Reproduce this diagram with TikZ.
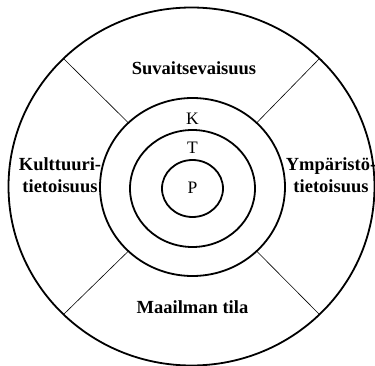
\documentclass[tikz,border=0pt]{standalone}
\usepackage{fontspec}
\setmainfont{Liberation Serif}
\usetikzlibrary{shapes.geometric}

\begin{document}
\begin{tikzpicture}[
    x=1pt, y=-1pt,
    ring/.style={draw, ellipse, line width=1.8pt, inner sep=0pt, outer sep=0pt},
    divider/.style={line width=0.6pt},
    area/.style={font=\fontsize{18.5}{22}\selectfont\bfseries, align=center, inner sep=1pt},
    level/.style={font=\fontsize{17.5}{20}\selectfont, inner sep=1pt}
]
    \useasboundingbox (0,0) rectangle (375,366);
    \coordinate (c) at (191.5,186.5);

    % Rings
    \node[ring, minimum width=366pt, minimum height=358pt] (outer) at (c) {};
    \node[ring, minimum width=185pt, minimum height=178pt] (kring) at (192.5,187) {};
    \node[ring, minimum width=125pt, minimum height=117pt] (tring) at (192.5,188.5) {};
    \node[ring, minimum width=61pt, minimum height=57pt] (pring) at (192.5,188.5) {};

    % Dividers
    \foreach \a in {45,135,225,315}
        \draw[divider] (kring.\a) -- (outer.\a);

    % Areas
    \node[area] (suvait) at (194,68) {Suvaitsevaisuus};
    \node[area] (maail) at (192.5,307) {Maailman tila};
    \node[area] (kult) at (60,175) {Kulttuuri-\\tietoisuus};
    \node[area] (ymp) at (331,175) {Ympäristö-\\tietoisuus};

    % Levels
    \node[level] (k) at (192.5,119) {K};
    \node[level] (t) at (192.5,148) {T};
    \node[level] (p) at (192.5,188) {P};
\end{tikzpicture}
\end{document}
